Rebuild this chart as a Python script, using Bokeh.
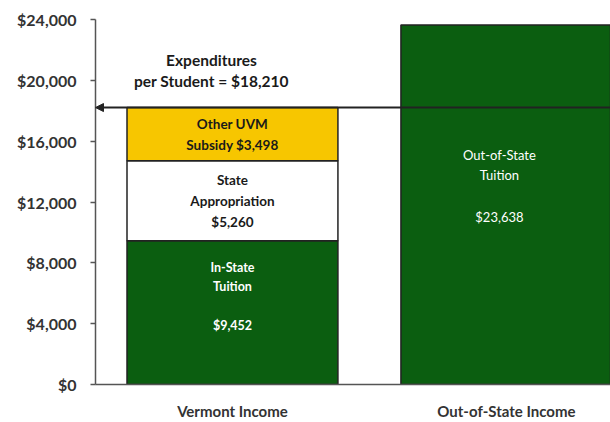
from bokeh.plotting import figure
from bokeh.models import (Range1d, FixedTicker, NumeralTickFormatter, Arrow, NormalHead,
                          ColumnDataSource)
from bokeh.core.properties import value
from bokeh.embed import file_html
from bokeh.resources import INLINE

# ---- data ----
categories = ["Vermont Income", "Out-of-State Income"]
vt_segments = ["In-State\nTuition\n\n$9,452", "State\nAppropriation\n$5,260", "Other UVM\nSubsidy $3,498"]
vt_values = [9452, 5260, 3498]
vt_colors = ["#0b5e10", "#ffffff", "#f7c600"]
vt_text_colors = ["#ffffff", "#1a1a1a", "#1a1a1a"]
vt_text_sizes = ["12.5px", "13.5px", "13.5px"]
vt_text_offsets = [-16, 0, 0]
oos_label = "Out-of-State\nTuition\n\n$23,638"
oos_value = 23638
expenditures = 18210
expend_label = "Expenditures\nper Student = $18,210"
y_ticks = [0, 4000, 8000, 12000, 16000, 20000, 24000]

FONT = "Lato"
GREEN = "#0b5e10"

xs = [i + 0.5 for i in range(len(categories))]

p = figure(width=610, height=422, output_backend="svg", toolbar_location=None,
           x_range=Range1d(0, 1.88), y_range=Range1d(0, 24000),
           min_border_left=95, min_border_right=0, min_border_top=19, min_border_bottom=38)
p.outline_line_color = None
p.xgrid.grid_line_color = None
p.ygrid.grid_line_color = None
p.background_fill_color = "white"

# stacked Vermont bar
bottoms, tops = [], []
acc = 0
for v in vt_values:
    bottoms.append(acc)
    acc += v
    tops.append(acc)
src = ColumnDataSource(dict(x=[xs[0]] * len(vt_values), bottom=bottoms, top=tops,
                            color=vt_colors, label=vt_segments, tc=vt_text_colors,
                            fs=vt_text_sizes,
                            mid=[(b + t) / 2 for b, t in zip(bottoms, tops)],
                            off=vt_text_offsets))
p.vbar(x="x", bottom="bottom", top="top", width=0.77, fill_color="color", source=src,
       line_color="#222222", line_width=1.5)
p.text(x="x", y="mid", text="label", source=src, text_color="tc", y_offset="off",
       text_align="center", text_baseline="middle", text_font=value(FONT),
       text_font_style="bold", text_font_size="fs", text_line_height=1.3)

# out-of-state bar
p.vbar(x=[xs[1]], bottom=[0], top=[oos_value], width=0.77, fill_color=GREEN,
       line_color="#222222", line_width=1.5)
p.text(x=[xs[1]], y=[oos_value / 2], text=[oos_label], text_color="#ffffff", y_offset=-19,
       x_offset=-7, text_align="center", text_baseline="middle", text_font=value(FONT),
       text_font_size="13px", text_line_height=1.3)

# expenditure arrow
p.add_layout(Arrow(x_start=p.x_range.end, x_end=p.x_range.start, y_start=expenditures,
                   y_end=expenditures, line_color="#222222", line_width=2,
                   end=NormalHead(size=8, fill_color="#222222", line_color="#222222")))
p.text(x=[xs[0]], y=[expenditures], text=[expend_label], x_offset=-21, y_offset=-37,
       text_align="center", text_baseline="middle", text_font=value(FONT),
       text_font_style="bold", text_font_size="15.5px", text_color="#1a1a1a",
       text_line_height=1.15)

# axes
p.yaxis.ticker = FixedTicker(ticks=y_ticks)
p.yaxis.formatter = NumeralTickFormatter(format="$0,0")
p.yaxis.axis_line_color = "#555555"
p.yaxis.axis_line_width = 1.5
p.yaxis.major_tick_line_color = "#555555"
p.yaxis.major_tick_line_width = 1.5
p.yaxis.major_tick_out = 5
p.yaxis.major_tick_in = 0
p.yaxis.minor_tick_line_color = None
p.yaxis.major_label_text_font = FONT
p.yaxis.major_label_text_font_style = "bold"
p.yaxis.major_label_text_font_size = "16px"
p.yaxis.major_label_text_color = "#333333"
p.yaxis.major_label_standoff = 14

p.xaxis.ticker = FixedTicker(ticks=xs)
p.xaxis.major_label_overrides = {x: c for x, c in zip(xs, categories)}
p.xaxis.axis_line_color = "#555555"
p.xaxis.axis_line_width = 1.5
p.xaxis.major_tick_line_color = None
p.xaxis.minor_tick_line_color = None
p.xaxis.major_label_text_font = FONT
p.xaxis.major_label_text_font_style = "bold"
p.xaxis.major_label_text_font_size = "15px"
p.xaxis.major_label_text_color = "#333333"
p.xaxis.major_label_standoff = 11

open("out.html", "w").write(file_html(p, INLINE))
